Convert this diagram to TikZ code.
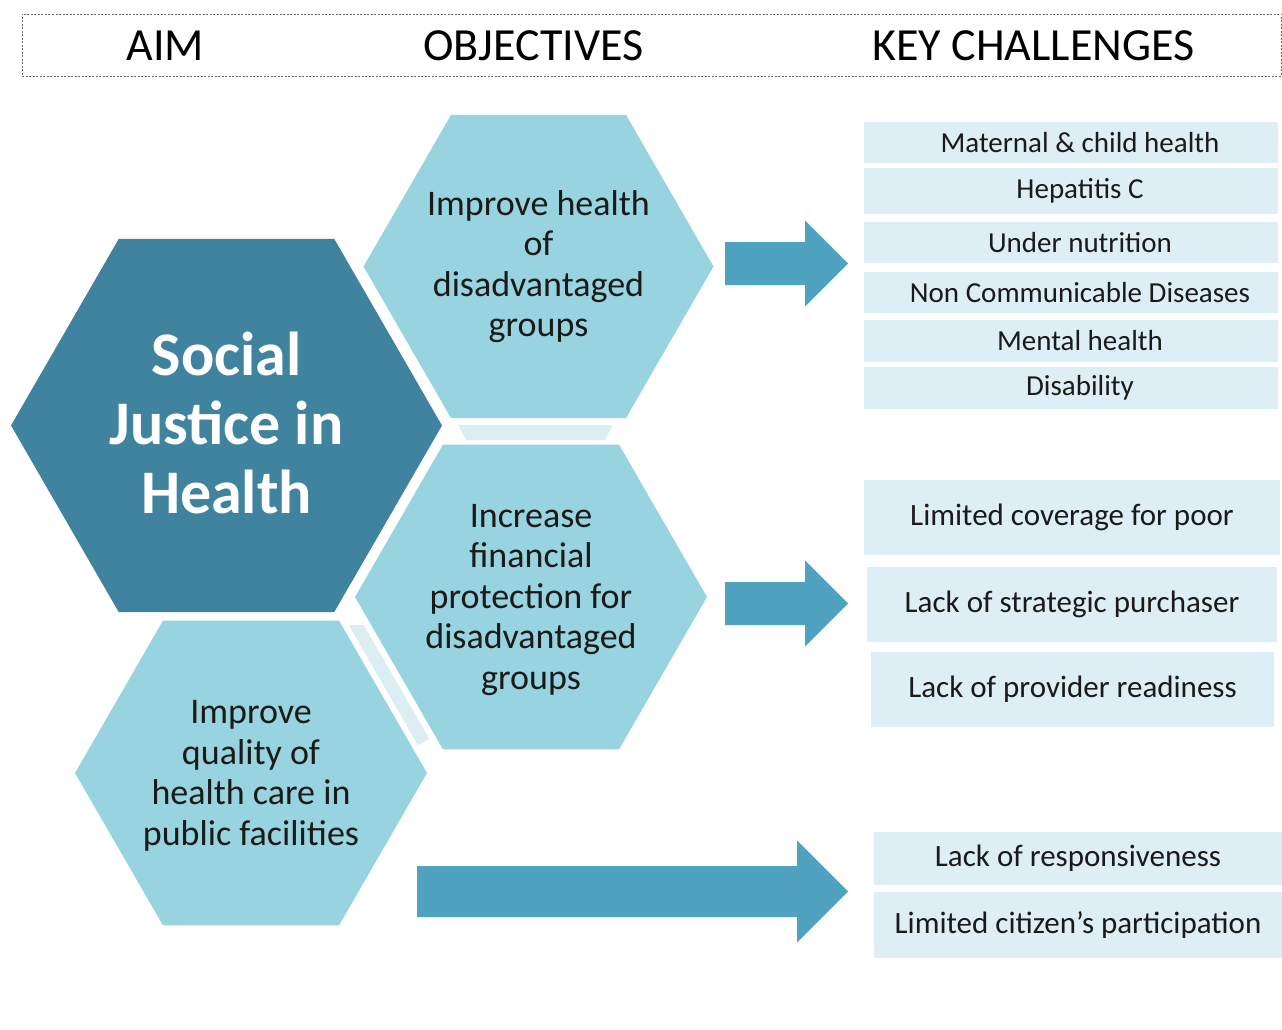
\documentclass[tikz,border=0pt]{standalone}
\usepackage{fontspec}
\setmainfont{Carlito}
\usetikzlibrary{shapes.geometric,calc}

\definecolor{darkhex}{HTML}{3F839F}
\definecolor{lighthex}{HTML}{98D4DF}
\definecolor{arrowblue}{HTML}{4FA3C0}
\definecolor{boxblue}{HTML}{DDEFF4}
\definecolor{stripblue}{HTML}{DCEEF2}
\definecolor{textdark}{HTML}{1A1A1A}

\tikzset{
  hexbase/.style={regular polygon, regular polygon sides=6, inner sep=0pt},
  aimhex/.style={hexbase, fill=darkhex, minimum size=431pt},
  objhex/.style={hexbase, fill=lighthex, minimum size=352pt},
  aimtext/.style={align=center, inner sep=0pt, text=white,
    font=\bfseries\fontsize{62}{69}\selectfont},
  objtext/.style={align=center, inner sep=0pt, text=textdark,
    font=\fontsize{36}{40.5}\selectfont},
  chbox/.style={fill=boxblue, inner sep=0pt, text=textdark},
  chsmall/.style={font=\fontsize{29}{33}\selectfont},
  chlarge/.style={font=\fontsize{31}{35}\selectfont},
  headtext/.style={font=\fontsize{46}{50}\selectfont, text=black},
}

% block arrow: from, to, half shaft width
\newcommand{\blockarrow}[3]{%
  \fill[arrowblue] ($(#1)+(0,-#3)$) -- ($(#2)+(-2*#3,-#3)$) -- ($(#2)+(-2*#3,-2*#3)$)
    -- (#2) -- ($(#2)+(-2*#3,2*#3)$) -- ($(#2)+(-2*#3,#3)$) -- ($(#1)+(0,#3)$) -- cycle;}

\begin{document}
\begin{tikzpicture}[x=1pt,y=-1pt]
    \useasboundingbox (0,0) rectangle (1282,1030);

    % header
    \node[draw=black!60, line width=0.7pt, dash pattern=on 2pt off 1.5pt,
          minimum width=1259pt, minimum height=62pt] (header) at (651.5,45) {};
    \node[headtext] (haim) at (165.5,46) {AIM};
    \node[headtext] (hobj) at (533.5,46) {OBJECTIVES};
    \node[headtext] (hkey) at (1033.5,46) {KEY CHALLENGES};

    % hexagons
    \node[aimhex] (aim) at (226.5,425.5) {};
    \node[aimtext] (aimtxt) at ([yshift=3pt]aim.center) {Social\\Justice in\\Health};
    \node[objhex, minimum size=350pt] (obj1) at (538.5,266.5) {};
    \node[objtext] (obj1txt) at (obj1.center) {Improve health\\of\\disadvantaged\\groups};
    \node[objhex] (obj2) at (531,597) {};
    \node[objtext] (obj2txt) at ([yshift=-3pt]obj2.center)
        {Increase\\financial\\protection for\\disadvantaged\\groups};
    \node[objhex] (obj3) at (251,773) {};
    \node[objtext] (obj3txt) at ([yshift=-3pt]obj3.center)
        {Improve\\quality of\\health care in\\public facilities};

    % pale strips between the hexagons
    \fill[stripblue] (458,425) -- (613,425) -- (605,440) -- (466,440) -- cycle;
    \fill[stripblue] (348.7,625) -- (363.7,625) -- (429.5,739) -- (418,745.4) -- cycle;

    % arrows
    \coordinate (a1s) at (725,263.5);
    \coordinate (a1e) at (848,263.5);
    \coordinate (a2s) at (725,603.5);
    \coordinate (a2e) at (848,603.5);
    \coordinate (a3s) at (417,891.5);
    \coordinate (a3e) at (848,891.5);
    \blockarrow{a1s}{a1e}{21.5}
    \blockarrow{a2s}{a2e}{21.5}
    \blockarrow{a3s}{a3e}{25.5}

    % key challenges
    \foreach \nm/\yy/\hh/\txt in {hl1/142.5/41/Maternal \& child health, hl2/191/46/Hepatitis C,
        hl3/242.5/41/Under nutrition, hl4/292.5/41/Non Communicable Diseases,
        hl5/341/42/Mental health, hl6/388/42/Disability}{
        \node[chbox, chsmall, minimum width=414pt, minimum height=\hh pt] (\nm) at (1071,\yy)
            {\hspace*{18pt}\txt};
    }
    \node[chbox, chlarge, minimum width=416pt, minimum height=75pt] (fp1) at (1072,517.5)
        {Limited coverage for poor};
    \node[chbox, chlarge, minimum width=410pt, minimum height=75pt] (fp2) at (1072,604.5)
        {Lack of strategic purchaser};
    \node[chbox, chlarge, minimum width=403pt, minimum height=75pt] (fp3) at (1072.5,689.5)
        {Lack of provider readiness};
    \node[chbox, chlarge, minimum width=408pt, minimum height=53pt] (qc1) at (1078,858.5)
        {Lack of responsiveness};
    \node[chbox, chlarge, minimum width=408pt, minimum height=66pt] (qc2) at (1078,925)
        {Limited citizen’s participation};
\end{tikzpicture}
\end{document}
